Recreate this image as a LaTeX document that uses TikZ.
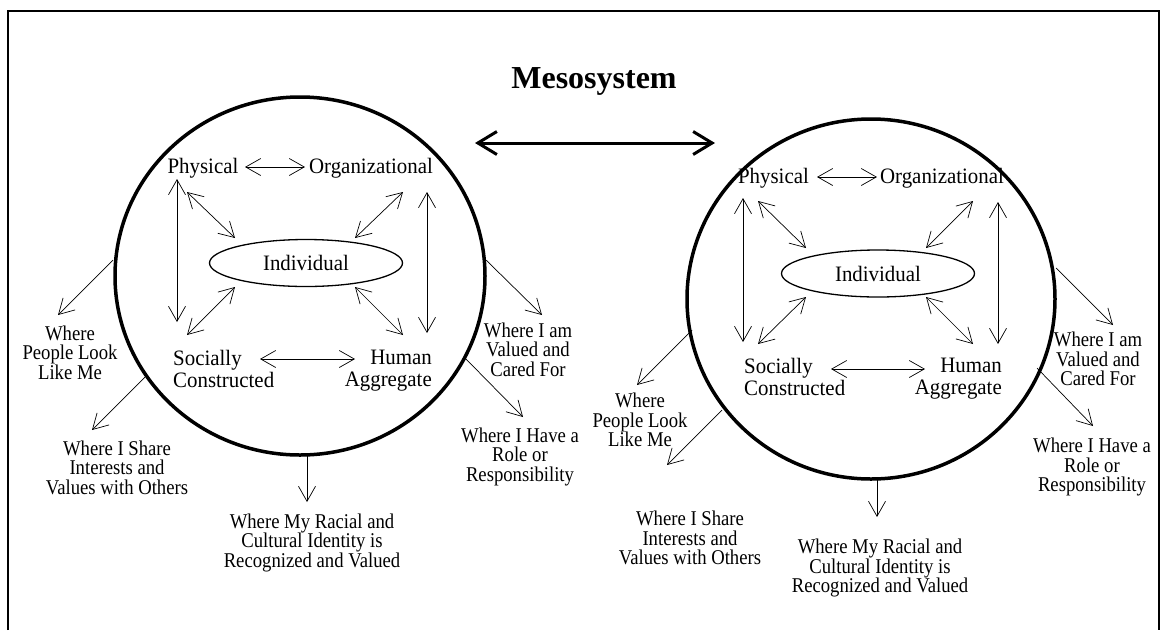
\documentclass[tikz,border=0pt]{standalone}
\usepackage{fontspec}
\setmainfont{Liberation Serif}
\newfontfamily\outerfont[FakeStretch=0.89]{Liberation Serif}
\newfontfamily\innerfont[FakeStretch=0.95]{Liberation Serif}
\usetikzlibrary{arrows.meta,shapes.geometric}
\begin{document}
\begin{tikzpicture}[x=1pt,y=-1pt,
  lbl/.style={font=\innerfont\fontsize{22}{22}\selectfont, inner sep=0pt},
  outer/.style={font=\outerfont\fontsize{21}{19.5}\selectfont, align=center, inner sep=0pt, anchor=north},
  tw/.style={line width=0.7pt, {Straight Barb[length=15pt,width=17pt]}-{Straight Barb[length=15pt,width=17pt]}},
  ow/.style={line width=0.7pt, -{Straight Barb[length=15pt,width=17pt]}},
  ring/.style={ellipse, draw, line width=3.5pt, inner sep=0pt},
  ind/.style={ellipse, draw, line width=1.3pt, minimum width=193pt, minimum height=47pt, inner sep=0pt, font=\innerfont\fontsize{22}{22}\selectfont}]
\useasboundingbox (0,0) rectangle (1162,630);
% frame
\coordinate (f1) at (8,630); \coordinate (f2) at (8,11);
\coordinate (f3) at (1159,11); \coordinate (f4) at (1159,630);
\draw[line width=1.5pt] (f1) -- (f2) -- (f3) -- (f4);
% title
\node[font=\bfseries\fontsize{32}{34}\selectfont, inner sep=0pt, anchor=base] (title) at (594,88) {Mesosystem};
\coordinate (m1) at (475,143); \coordinate (m2) at (715,143);
\draw[line width=3pt, {Straight Barb[length=19pt,width=23pt]}-{Straight Barb[length=19pt,width=23pt]}] (m1) -- (m2);

% ---------- left system ----------
\node[ring, minimum width=370pt, minimum height=358pt] (Lc) at (300,276) {};
\node[ind] (Lind) at (306,263) {Individual};
\node[lbl, anchor=base] (Lphy) at (203,173) {Physical};
\node[lbl, anchor=base] (Lorg) at (371,173) {Organizational};
\node[lbl, anchor=north west, align=left] (Lsoc) at (173,350) {Socially\\Constructed};
\node[lbl, anchor=north east, align=right] (Lhum) at (432,350) {Human\\Aggregate};
\coordinate (La1) at (245,167); \coordinate (La2) at (305,167);
\coordinate (Lb1) at (177,179); \coordinate (Lb2) at (177,322);
\coordinate (Lc1) at (187,192); \coordinate (Lc2) at (235,238);
\coordinate (Ld1) at (403,192); \coordinate (Ld2) at (355,238);
\coordinate (Le1) at (427,192); \coordinate (Le2) at (427,333);
\coordinate (Lf1) at (235,287); \coordinate (Lf2) at (187,335);
\coordinate (Lg1) at (355,287); \coordinate (Lg2) at (403,335);
\coordinate (Lh1) at (260,359); \coordinate (Lh2) at (355,359);
\foreach \p in {a,b,c,d,e,f,g,h} \draw[tw] (L\p1) -- (L\p2);
% outer labels
\coordinate (Lo1s) at (113,260); \coordinate (Lo1e) at (58,315);
\coordinate (Lo2s) at (145,377); \coordinate (Lo2e) at (92,430);
\coordinate (Lo3s) at (307,456); \coordinate (Lo3e) at (307,502);
\coordinate (Lo4s) at (486,260); \coordinate (Lo4e) at (542,315);
\coordinate (Lo5s) at (465,358); \coordinate (Lo5e) at (523,417);
\foreach \p in {1,2,3,4,5} \draw[ow] (Lo\p s) -- (Lo\p e);
\node[outer] (Lpeople) at (70,325.7) {Where\\People Look\\Like Me};
\node[outer] (Lshare) at (117,440.7) {Where I Share\\Interests and\\Values with Others};
\node[outer] (Lracial) at (312,513.7) {Where My Racial and\\Cultural Identity is\\Recognized and Valued};
\node[outer] (Lvalued) at (528,322.7) {Where I am\\Valued and\\Cared For};
\node[outer] (Lrole) at (520,427.7) {Where I Have a\\Role or\\Responsibility};

% ---------- right system ----------
\node[ring, minimum width=368pt, minimum height=360pt] (Rc) at (871,299) {};
\node[ind] (Rind) at (878,273.5) {Individual};
\node[lbl, anchor=base] (Rphy) at (773.5,183) {Physical};
\node[lbl, anchor=base] (Rorg) at (942,183) {Organizational};
\node[lbl, anchor=north west, align=left] (Rsoc) at (744,358) {Socially\\Constructed};
\node[lbl, anchor=north east, align=right] (Rhum) at (1002,358) {Human\\Aggregate};
\coordinate (Ra1) at (817,177); \coordinate (Ra2) at (877,177);
\coordinate (Rb1) at (743,198); \coordinate (Rb2) at (743,342);
\coordinate (Rc1) at (758,201); \coordinate (Rc2) at (806,248);
\coordinate (Rd1) at (973,201); \coordinate (Rd2) at (926,248);
\coordinate (Re1) at (998,202); \coordinate (Re2) at (998,344);
\coordinate (Rf1) at (806,297); \coordinate (Rf2) at (758,344);
\coordinate (Rg1) at (926,297); \coordinate (Rg2) at (973,344);
\coordinate (Rh1) at (831,369); \coordinate (Rh2) at (925,369);
\foreach \p in {a,b,c,d,e,f,g,h} \draw[tw] (R\p1) -- (R\p2);
\coordinate (Ro1s) at (692,330); \coordinate (Ro1e) at (637,385);
\coordinate (Ro2s) at (722,410); \coordinate (Ro2e) at (667,465);
\coordinate (Ro3s) at (877,479); \coordinate (Ro3e) at (877,517);
\coordinate (Ro4s) at (1056,268); \coordinate (Ro4e) at (1113,325);
\coordinate (Ro5s) at (1037,368); \coordinate (Ro5e) at (1093,426);
\foreach \p in {1,2,3,4,5} \draw[ow] (Ro\p s) -- (Ro\p e);
\node[outer] (Rpeople) at (640,393) {Where\\People Look\\Like Me};
\node[outer] (Rshare) at (690,511) {Where I Share\\Interests and\\Values with Others};
\node[outer] (Rracial) at (880,539) {Where My Racial and\\Cultural Identity is\\Recognized and Valued};
\node[outer] (Rvalued) at (1098,332) {Where I am\\Valued and\\Cared For};
\node[outer] (Rrole) at (1092,438) {Where I Have a\\Role or\\Responsibility};
\end{tikzpicture}
\end{document}
